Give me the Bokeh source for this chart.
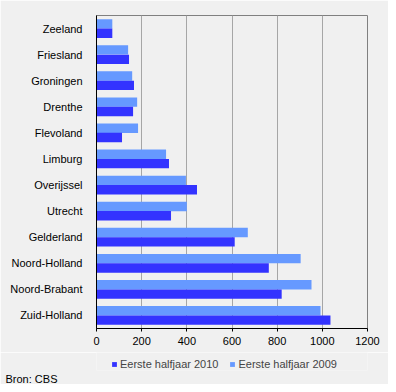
from bokeh.plotting import figure
from bokeh.layouts import column
from bokeh.models import (ColumnDataSource, FactorRange, Range1d, FixedTicker,
                          Legend, LegendItem, Title)
from bokeh.transform import dodge
from bokeh.embed import file_html
from bokeh.resources import INLINE

provinces = ["Zeeland", "Friesland", "Groningen", "Drenthe", "Flevoland", "Limburg",
             "Overijssel", "Utrecht", "Gelderland", "Noord-Holland", "Noord-Brabant",
             "Zuid-Holland"]
h2010 = [70, 144, 166, 162, 113, 321, 445, 330, 612, 763, 820, 1036]
h2009 = [70, 140, 158, 180, 184, 308, 396, 400, 670, 904, 952, 992]
x_ticks = [0, 200, 400, 600, 800, 1000, 1200]
series_labels = ["Eerste halfjaar 2010", "Eerste halfjaar 2009"]
source_note = "Bron: CBS"

FONT = "Liberation Sans"
BG = "#F0F0F0"
DARK = "#3333FF"
LIGHT = "#6699FF"

src = ColumnDataSource(dict(prov=provinces, h2010=h2010, h2009=h2009))

p = figure(width=388, height=352, output_backend="svg", toolbar_location=None,
           y_range=FactorRange(factors=list(reversed(provinces)), range_padding=0),
           x_range=Range1d(0, 1200),
           min_border_left=96, min_border_right=21, min_border_top=15, min_border_bottom=24)
p.background_fill_color = BG
p.border_fill_color = BG
p.outline_line_color = "#808080"

p.hbar(y=dodge("prov", 0.18, range=p.y_range), right="h2009", left=0, height=0.36,
       source=src, color=LIGHT, line_color=None)
p.hbar(y=dodge("prov", -0.18, range=p.y_range), right="h2010", left=0, height=0.36,
       source=src, color=DARK, line_color=None)

p.xaxis.ticker = FixedTicker(ticks=x_ticks)
p.xaxis.axis_line_color = "black"
p.xaxis.major_tick_line_color = "black"
p.xaxis.major_tick_in = 0
p.xaxis.major_tick_out = 3
p.xaxis.minor_tick_line_color = None
p.xaxis.major_label_text_font = FONT
p.xaxis.major_label_text_font_size = "11px"
p.xaxis.major_label_text_font_style = "normal"
p.xaxis.major_label_text_color = "black"
p.xaxis.major_label_standoff = 5

p.yaxis.axis_line_color = "black"
p.yaxis.major_tick_line_color = None
p.yaxis.minor_tick_line_color = None
p.yaxis.major_label_text_font = FONT
p.yaxis.major_label_text_font_size = "11px"
p.yaxis.major_label_text_font_style = "normal"
p.yaxis.major_label_text_color = "black"
p.yaxis.major_label_standoff = 8

p.ygrid.grid_line_color = None
p.xgrid.grid_line_color = "#A6A6A6"
p.xgrid.ticker = FixedTicker(ticks=x_ticks[1:-1])

# footer figure holding the legend and source note
f = figure(width=388, height=32, output_backend="svg", toolbar_location=None,
           x_range=Range1d(0, 1), y_range=Range1d(0, 1),
           x_axis_location=None, y_axis_location=None, min_border=0)
f.background_fill_color = BG
f.border_fill_color = BG
f.outline_line_color = None
f.grid.grid_line_color = None
nan = float("nan")
swatch = ColumnDataSource(dict(x=[nan], y=[nan]))
g10 = f.rect(x="x", y="y", width=0.1, height=0.1, source=swatch, color=DARK, line_color=None)
g09 = f.rect(x="x", y="y", width=0.1, height=0.1, source=swatch, color=LIGHT, line_color=None)

legend = Legend(items=[LegendItem(label=series_labels[0], renderers=[g10]),
                       LegendItem(label=series_labels[1], renderers=[g09])],
                orientation="horizontal", location=(15, 0),
                glyph_width=6, glyph_height=6, label_text_font=FONT,
                label_text_font_size="11px", label_standoff=3, spacing=11,
                background_fill_alpha=0, border_line_color=None, padding=0, margin=0,
                label_height=12)
f.add_layout(legend, "center")
f.add_layout(Title(text=source_note, align="left", offset=-91, standoff=0,
                   text_font=FONT, text_font_size="11px", text_font_style="normal",
                   text_color="black"), "below")

open("out.html", "w").write(file_html(column(p, f, spacing=0), INLINE))
